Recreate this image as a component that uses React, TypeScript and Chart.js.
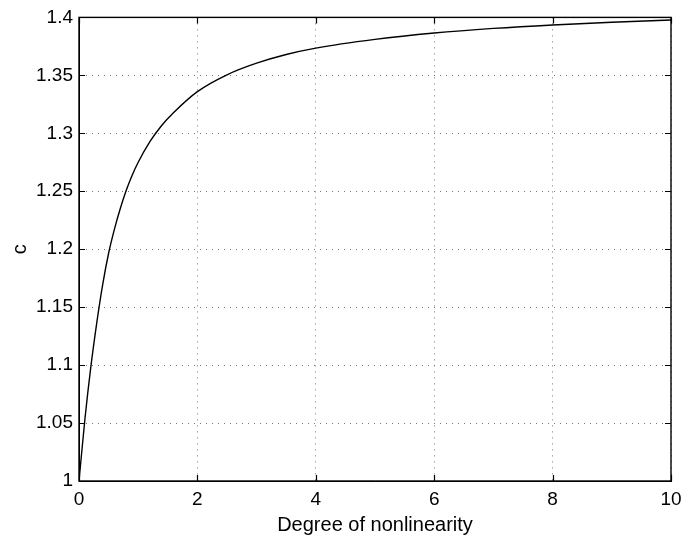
import React, { useEffect, useRef } from "react";
import { Chart, registerables } from "chart.js";

Chart.register(...registerables);

// Degree of nonlinearity (x) and c (y)
const xValues = [0, 0.1, 0.2, 0.3, 0.4, 0.5, 0.6, 0.7, 0.8, 0.9, 1.0, 1.2, 1.4, 1.6, 2.0, 2.5, 3.0, 3.5, 4.0, 5.0, 6.0, 7.0, 8.0, 9.0, 10.0];
const cValues = [1.0, 1.0535, 1.0985, 1.1365, 1.1695, 1.1965, 1.2175, 1.2355, 1.251, 1.264, 1.275, 1.293, 1.307, 1.318, 1.336, 1.3505, 1.3605, 1.368, 1.3735, 1.381, 1.3865, 1.3905, 1.3935, 1.3958, 1.3977];

const xTickLabels = ["0", "2", "4", "6", "8", "10"];
const yTickLabels = ["1", "1.05", "1.1", "1.15", "1.2", "1.25", "1.3", "1.35", "1.4"];

const xTitle = "Degree of nonlinearity";
const yTitle = "c";

const FONT = "'Liberation Sans', Arial, Helvetica, sans-serif";

const boxAndTicks = {
  id: "boxAndTicks",
  afterDraw(chart: any) {
    const { ctx, chartArea } = chart;
    const xs = chart.scales.x;
    const ys = chart.scales.y;
    const L = 6;
    ctx.save();
    ctx.strokeStyle = "#000";
    ctx.lineWidth = 1.2;
    ctx.beginPath();
    xs.ticks.forEach((t: any) => {
      const px = Math.round(xs.getPixelForValue(t.value)) + 0.5;
      ctx.moveTo(px, chartArea.bottom);
      ctx.lineTo(px, chartArea.bottom - L);
      ctx.moveTo(px, chartArea.top);
      ctx.lineTo(px, chartArea.top + L);
    });
    ys.ticks.forEach((t: any) => {
      const py = Math.round(ys.getPixelForValue(t.value)) + 0.5;
      ctx.moveTo(chartArea.left, py);
      ctx.lineTo(chartArea.left + L, py);
      ctx.moveTo(chartArea.right, py);
      ctx.lineTo(chartArea.right - L, py);
    });
    ctx.stroke();
    ctx.lineWidth = 1.4;
    ctx.strokeRect(chartArea.left, chartArea.top, chartArea.right - chartArea.left, chartArea.bottom - chartArea.top);
    ctx.restore();
  },
};

export default function App() {
  const ref = useRef<HTMLCanvasElement | null>(null);
  useEffect(() => {
    if (!ref.current) return;
    const data = xValues.map((x, i) => ({ x, y: cValues[i] }));
    const chart = new Chart(ref.current, {
      type: "line",
      data: {
        datasets: [
          {
            data,
            borderColor: "#000",
            borderWidth: 1.4,
            pointRadius: 0,
            cubicInterpolationMode: "monotone",
            fill: false,
          },
        ],
      },
      options: {
        animation: false,
        responsive: false,
        maintainAspectRatio: false,
        events: [],
        layout: { padding: { left: 0, top: 14, right: 25, bottom: 0 } },
        plugins: { legend: { display: false }, tooltip: { enabled: false }, title: { display: false } },
        scales: {
          x: {
            type: "linear",
            min: 0,
            max: 10,
            afterFit: (s: any) => {
              s.height = 57;
            },
            ticks: {
              stepSize: 2,
              color: "#000",
              padding: 7,
              maxRotation: 0,
              font: { family: FONT, size: 19 },
              callback: (v: any) => {
                const idx = Math.round(Number(v) / 2);
                return xTickLabels[idx] ?? "";
              },
            },
            grid: {
              color: "#777",
              lineWidth: 1,
              drawTicks: false,
            },
            border: { display: true, color: "#000", width: 1, dash: [1, 5] },
            title: {
              display: true,
              text: xTitle,
              color: "#000",
              font: { family: FONT, size: 20 },
              padding: { top: 0, bottom: 1 },
            },
          } as any,
          y: {
            type: "linear",
            min: 1,
            max: 1.4,
            afterFit: (s: any) => {
              s.width = 79;
            },
            ticks: {
              stepSize: 0.05,
              color: "#000",
              padding: 6,
              font: { family: FONT, size: 19 },
              callback: (v: any) => {
                const idx = Math.round((Number(v) - 1) / 0.05);
                return yTickLabels[idx] ?? "";
              },
            },
            grid: {
              color: "#777",
              lineWidth: 1,
              drawTicks: false,
            },
            border: { display: true, color: "#000", width: 1, dash: [1, 5] },
            title: {
              display: true,
              text: yTitle,
              color: "#000",
              font: { family: FONT, size: 20 },
              padding: { top: 8, bottom: 0 },
            },
          } as any,
        },
      },
      plugins: [boxAndTicks],
    } as any);
    return () => chart.destroy();
  }, []);
  return (
    <div style={{ position: "fixed", left: 0, top: 0, width: 696, height: 538, background: "#fff" }}>
      <canvas ref={ref} width={696} height={538} style={{ width: 696, height: 538, display: "block" }} />
    </div>
  );
}
